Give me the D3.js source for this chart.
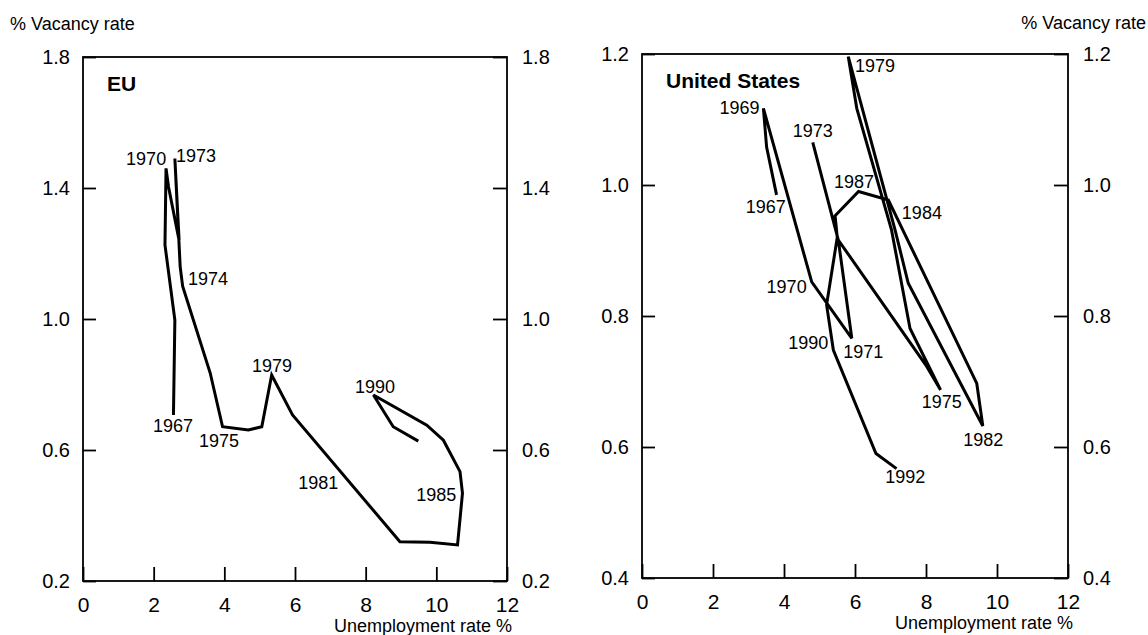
<!DOCTYPE html>
<html>
<head>
<meta charset="utf-8">
<script src="https://cdn.jsdelivr.net/npm/d3@7"></script>
<style>
  body { margin: 0; background: #fff; }
  svg { display: block; font-family: "Liberation Sans", Arial, Helvetica, sans-serif; }
</style>
</head>
<body>
<div id="chart"></div>
<script>
// EU: unemployment rate (%) vs vacancy rate (%)
const euUnemp = [2.56, 2.60, 2.32, 2.35, 2.42, 2.72, 2.60, 2.75, 2.82, 3.60, 3.95, 4.68, 5.06, 5.34, 5.93, 8.97, 9.82, 10.60, 10.74, 10.67, 10.20, 9.73, 8.22, 8.78, 9.49];
const euVacancy = [0.707, 0.997, 1.226, 1.460, 1.404, 1.240, 1.490, 1.160, 1.100, 0.835, 0.671, 0.661, 0.671, 0.829, 0.707, 0.320, 0.318, 0.310, 0.468, 0.534, 0.630, 0.676, 0.768, 0.671, 0.627];
const euLabelYears = ["1970", "1973", "1974", "1967", "1975", "1979", "1981", "1985", "1990"];
const euLabelX = [1.22, 2.63, 2.97, 1.98, 3.28, 4.78, 6.09, 9.43, 7.70];
const euLabelY = [1.470, 1.479, 1.104, 0.655, 0.609, 0.838, 0.481, 0.444, 0.774];

// United States
const usUnemp = [3.79, 3.51, 3.42, 4.78, 5.91, 5.53, 4.81, 5.53, 8.02, 8.41, 7.55, 7.03, 6.05, 5.81, 7.13, 7.50, 9.60, 9.43, 6.94, 6.10, 5.44, 5.50, 5.20, 5.39, 6.59, 7.17];
const usVacancy = [0.985, 1.058, 1.117, 0.852, 0.766, 0.916, 1.065, 0.916, 0.723, 0.687, 0.781, 0.931, 1.117, 1.196, 0.931, 0.850, 0.632, 0.697, 0.977, 0.990, 0.953, 0.920, 0.817, 0.748, 0.590, 0.567];
const usLabelYears = ["1979", "1969", "1973", "1967", "1987", "1984", "1970", "1990", "1971", "1975", "1982", "1992"];
const usLabelX = [6.00, 2.18, 4.245, 2.92, 5.41, 7.32, 3.51, 4.12, 5.67, 7.88, 9.05, 6.85];
const usLabelY = [1.173, 1.108, 1.073, 0.957, 0.995, 0.948, 0.835, 0.750, 0.736, 0.660, 0.602, 0.545];

const xTicks = [0, 2, 4, 6, 8, 10, 12];
const euYTicks = [0.2, 0.6, 1.0, 1.4, 1.8];
const usYTicks = [0.4, 0.6, 0.8, 1.0, 1.2];

const W = 1148, H = 635;
const svg = d3.select("#chart").append("svg")
    .attr("width", W)
    .attr("height", H);

function drawPanel(opts) {
    const { left, right, top, bottom, yDomain, yTicks, xs, ys, labels, title } = opts;

    const x = d3.scaleLinear().domain([0, 12]).range([left, right]);
    const y = d3.scaleLinear().domain(yDomain).range([bottom, top]);
    const g = svg.append("g");

    // frame
    g.append("rect")
        .attr("x", left).attr("y", top)
        .attr("width", right - left).attr("height", bottom - top)
        .attr("fill", "none")
        .attr("stroke", "#000")
        .attr("stroke-width", 1.8);

    const styleAxis = (sel) => {
        sel.select(".domain").remove();
        sel.selectAll(".tick line").attr("stroke", "#000").attr("stroke-width", 1.8);
        sel.selectAll("text").attr("fill", "#000");
        sel.attr("font-family", null).attr("font-size", 20);
    };

    g.append("g")
        .attr("transform", `translate(0,${bottom})`)
        .call(d3.axisBottom(x).tickValues(xTicks).tickSizeInner(-14).tickSizeOuter(0).tickPadding(16).tickFormat(d3.format("d")))
        .call(styleAxis)
        .attr("font-size", 21);

    g.append("g")
        .attr("transform", `translate(${left},0)`)
        .call(d3.axisLeft(y).tickValues(yTicks).tickSizeInner(-13).tickSizeOuter(0).tickPadding(13).tickFormat(d3.format(".1f")))
        .call(styleAxis);

    g.append("g")
        .attr("transform", `translate(${right},0)`)
        .call(d3.axisRight(y).tickValues(yTicks).tickSizeInner(-14).tickSizeOuter(0).tickPadding(15).tickFormat(d3.format(".1f")))
        .call(styleAxis);

    // data path
    const pts = xs.map((d, i) => [d, ys[i]]);
    const line = d3.line().x(d => x(d[0])).y(d => y(d[1]));
    g.append("path")
        .datum(pts)
        .attr("d", line)
        .attr("fill", "none")
        .attr("stroke", "#000")
        .attr("stroke-width", 3)
        .attr("stroke-linejoin", "miter");

    // year labels
    g.selectAll(".yr")
        .data(labels.years)
        .join("text")
        .attr("class", "yr")
        .attr("x", (d, i) => x(labels.x[i]))
        .attr("y", (d, i) => y(labels.y[i]))
        .attr("font-size", 18)
        .text(d => d);

    g.append("text")
        .attr("x", left + 24)
        .attr("y", top + 34)
        .attr("font-size", 21)
        .attr("font-weight", "bold")
        .text(title);

    g.append("text")
        .attr("x", right + 5)
        .attr("y", bottom + 51)
        .attr("text-anchor", "end")
        .attr("font-size", 18)
        .text("Unemployment rate %");
}

drawPanel({
    left: 83, right: 507, top: 57, bottom: 581,
    yDomain: [0.2, 1.8], yTicks: euYTicks,
    xs: euUnemp, ys: euVacancy,
    labels: { years: euLabelYears, x: euLabelX, y: euLabelY },
    title: "EU"
});

drawPanel({
    left: 642, right: 1068, top: 54, bottom: 578,
    yDomain: [0.4, 1.2], yTicks: usYTicks,
    xs: usUnemp, ys: usVacancy,
    labels: { years: usLabelYears, x: usLabelX, y: usLabelY },
    title: "United States"
});

svg.append("text")
    .attr("x", 10).attr("y", 30)
    .attr("font-size", 18)
    .text("% Vacancy rate");

svg.append("text")
    .attr("x", 1146).attr("y", 29)
    .attr("text-anchor", "end")
    .attr("font-size", 18)
    .text("% Vacancy rate");
</script>
</body>
</html>
